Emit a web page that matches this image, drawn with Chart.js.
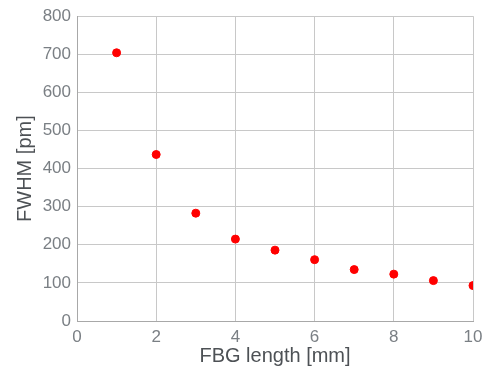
<!DOCTYPE html>
<html lang="en">
<head>
  <meta charset="UTF-8" />
  <title>FWHM vs FBG length</title>
  <script src="https://cdn.jsdelivr.net/npm/chart.js"></script>
  <style>
    body { margin: 0; background: #fff; }
    #chart { display: block; }
  </style>
</head>
<body>
  <canvas id="chart" width="500" height="376"></canvas>
  <script>
    // values
    const fbgLength = [1, 2, 3, 4, 5, 6, 7, 8, 9, 10];
    const fwhm = [704, 437, 283, 215, 186, 161, 135, 123, 106, 93];

    const xTitle = 'FBG length [mm]';
    const yTitle = 'FWHM [pm]';

    const points = fbgLength.map((x, i) => ({ x: x, y: fwhm[i] }));

    const tickColor = '#7a7f84';
    const titleColor = '#4d5155';
    const gridColor = '#c8c8c8';
    const fontFamily = "'Liberation Sans', Arial, sans-serif";

    new Chart(document.getElementById('chart').getContext('2d'), {
      type: 'scatter',
      data: {
        datasets: [{
          data: points,
          backgroundColor: '#ff0000',
          borderColor: '#ff0000',
          borderWidth: 1,
          pointRadius: 4,
          pointHoverRadius: 4
        }]
      },
      options: {
        responsive: false,
        animation: false,
        layout: { padding: { top: 15, right: 27, left: 0, bottom: 0 } },
        plugins: { legend: { display: false }, tooltip: { enabled: false } },
        scales: {
          x: {
            type: 'linear',
            min: 0,
            max: 10,
            afterFit: (s) => { s.height = 55; },
            ticks: { stepSize: 2, padding: 6, color: tickColor, font: { family: fontFamily, size: 17 } },
            grid: { color: gridColor, drawTicks: false },
            border: { color: '#a8a8a8' },
            title: { display: true, text: xTitle, color: titleColor, padding: { top: 0, bottom: 8 }, font: { family: fontFamily, size: 20 } }
          },
          y: {
            min: 0,
            max: 800,
            afterFit: (s) => { s.width = 77; },
            ticks: { stepSize: 100, padding: 6, color: tickColor, font: { family: fontFamily, size: 17 } },
            grid: { color: gridColor, drawTicks: false },
            border: { color: '#a8a8a8' },
            title: { display: true, text: yTitle, color: titleColor, padding: { top: 13, bottom: 0 }, font: { family: fontFamily, size: 20 } }
          }
        }
      }
    });
  </script>
</body>
</html>
